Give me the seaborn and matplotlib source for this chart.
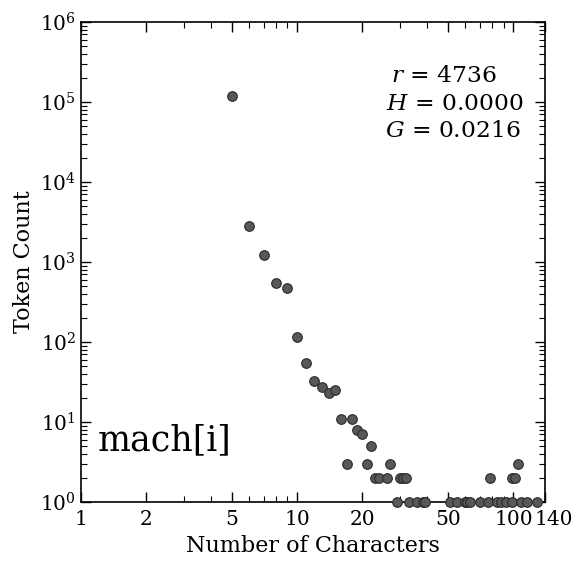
import matplotlib
matplotlib.use("Agg")
import matplotlib.pyplot as plt
import matplotlib.transforms as mtransforms
import seaborn as sns
import pandas as pd
from matplotlib.ticker import FixedLocator, FixedFormatter, LogLocator, NullFormatter

sns.set_style("ticks")
plt.rcParams['font.family'] = ['DejaVu Serif']
plt.rcParams['mathtext.fontset'] = 'dejavuserif'
plt.rcParams['text.color'] = 'black'
plt.rcParams['axes.labelcolor'] = 'black'
plt.rcParams['xtick.color'] = 'black'
plt.rcParams['ytick.color'] = 'black'

lengths = [5, 6, 7, 8, 9, 10, 11, 12, 13, 14, 15, 16, 17, 18, 19, 20, 21, 22,
           23, 24, 26, 27, 29, 30, 31, 32, 33, 36, 38, 39, 51, 55, 60, 61, 63,
           70, 76, 78, 84, 88, 92, 98, 98, 102, 105, 108, 116, 129]
counts = [119000, 2800, 1210, 540, 470, 117, 54, 33, 27, 23, 25, 11, 3, 11, 8, 7, 3, 5,
          2, 2, 2, 3, 1, 2, 2, 2, 1, 1, 1, 1, 1, 1, 1, 1, 1,
          1, 1, 2, 1, 1, 1, 1, 2, 2, 3, 1, 1, 1]
xticks = [1, 2, 5, 10, 20, 50, 100, 140]
xticklabels = ["1", "2", "5", "10", "20", "50", "100", "140"]
stats_lines = ["$r$ = 4736", "$H$ = 0.0000", "$G$ = 0.0216"]
name_text = "mach[i]"

df = pd.DataFrame({"length": lengths, "count": counts})

fig = plt.figure(figsize=(5.83, 5.64), dpi=100)
ax = fig.add_axes([81/583, 62/564, 464/583, 480/564])
sns.scatterplot(data=df, x="length", y="count", ax=ax, color="#585858",
                edgecolor="#2a2a2a", linewidth=0.8, s=48, zorder=3, legend=False,
                clip_on=False)
ax.set_xscale("log")
ax.set_yscale("log")
ax.set_xlim(1, 140)
ax.set_ylim(1, 1e6)
ax.xaxis.set_major_locator(FixedLocator(xticks))
ax.xaxis.set_major_formatter(FixedFormatter(xticklabels))
ax.xaxis.set_minor_locator(LogLocator(base=10, subs=range(1, 10)))
ax.xaxis.set_minor_formatter(NullFormatter())
ax.yaxis.set_minor_locator(LogLocator(base=10, subs=range(2, 10)))
ax.yaxis.set_minor_formatter(NullFormatter())
ax.tick_params(which="both", direction="in", top=True, right=True, labelsize=14.5)
ax.tick_params(which="major", length=7, width=1)
ax.tick_params(which="minor", length=4, width=0.8)
ax.tick_params(axis="x", which="major", pad=6)
for sp in ax.spines.values():
    sp.set_linewidth(1.2)
    sp.set_color("black")
ax.set_xlabel("Number of Characters", fontsize=16)
ax.set_ylabel("Token Count", fontsize=16)

# shift the last x tick label slightly right, as in the reference
fig.canvas.draw()
last = ax.get_xticklabels()[-1]
last.set_transform(last.get_transform() +
                   mtransforms.ScaledTranslation(9/100, 0, fig.dpi_scale_trans))

stat_pos = [(0.668, 0.875), (0.657, 0.817), (0.655, 0.760)]
for (px, py), line in zip(stat_pos, stats_lines):
    ax.text(px, py, line, transform=ax.transAxes, ha="left", va="baseline",
            fontsize=16.8)
ax.text(0.037, 0.108, name_text, transform=ax.transAxes, ha="left", va="baseline",
        fontsize=25)
fig.savefig("out.png", dpi=100)
